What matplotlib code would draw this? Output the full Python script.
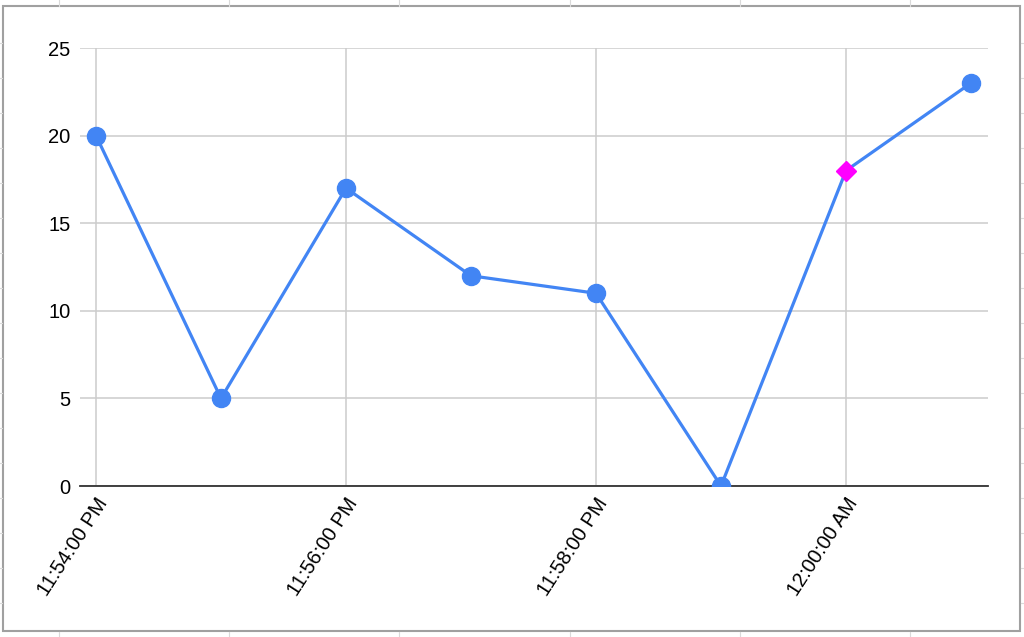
#!/usr/bin/env python3
# -*- coding: utf-8 -*-
import datetime as dt
import matplotlib
matplotlib.use('Agg')
import matplotlib.pyplot as plt
import matplotlib.dates as mdates
from matplotlib.lines import Line2D
from matplotlib.patches import Rectangle

# ------------------------------------------------------------------------------
#   Data
# ------------------------------------------------------------------------------
times = ['23:54', '23:55', '23:56', '23:57', '23:58', '23:59', '00:00', '00:01']
values = [20, 5, 17, 12, 11, 0, 18, 23]
highlight = '00:00'          # point drawn as magenta diamond
y_ticks = [0, 5, 10, 15, 20, 25]

BLUE = '#4285F4'
MAGENTA = '#FF00FF'


def to_dt(s):
    h, m = map(int, s.split(':'))
    day = 1 if h >= 12 else 2
    return dt.datetime(2020, 1, day, h, m)


def main():
    plt.rcParams['font.family'] = ['Liberation Sans', 'DejaVu Sans']
    x = [to_dt(t) for t in times]

    fig = plt.figure(figsize=(10.24, 6.37), dpi=100)
    ax = fig.add_axes([80/1024, 1 - 486/637, 908/1024, 438/637])

    # chart border + faint spreadsheet cells behind it
    fig.add_artist(Rectangle((3/1024, 1 - 631/637), 1017/1024, 625/637,
                             transform=fig.transFigure, fill=False,
                             edgecolor='#a0a0a0', lw=1.5))
    for px in [59, 229, 399, 570, 740, 910]:
        for y0, y1 in [(0, 6), (632, 637)]:
            fig.add_artist(Line2D([px/1024]*2, [1 - y0/637, 1 - y1/637],
                                  color='#dadada', lw=0.8))
    for py in range(43, 637, 35):
        for x0, x1 in [(0, 2), (1021, 1024)]:
            fig.add_artist(Line2D([x0/1024, x1/1024], [1 - py/637]*2,
                                  color='#dadada', lw=0.8))

    ax.plot(x, values, color=BLUE, lw=2.3, marker='o', ms=13,
            markevery=[i for i, t in enumerate(times) if t != highlight],
            zorder=3)
    hi = times.index(highlight)
    ax.plot([x[hi]], [values[hi]], marker='D', color=MAGENTA, ms=10,
            ls='none', zorder=4)

    pad = dt.timedelta(minutes=16/125)
    ax.set_xlim(x[0] - pad, x[-1] + dt.timedelta(minutes=17/125))
    ax.set_ylim(0, 25)
    ax.set_yticks(y_ticks)
    ax.xaxis.set_major_locator(mdates.MinuteLocator(byminute=range(0, 60, 2)))
    ax.xaxis.set_major_formatter(
        plt.FuncFormatter(lambda v, p: mdates.num2date(v).strftime('%I:%M:%S %p').lstrip('0')))

    ax.grid(True, color='#cccccc', lw=1.1)
    ax.set_axisbelow(True)
    for s in ['top', 'right', 'left']:
        ax.spines[s].set_visible(False)
    ax.spines['bottom'].set_color('#333333')
    ax.spines['bottom'].set_linewidth(1.3)
    ax.spines['bottom'].set_zorder(2.5)
    ax.tick_params(length=0, labelsize=14.5, colors='#000000', pad=7)
    ax.tick_params(axis='x', pad=6)
    for lab in ax.get_xticklabels():
        lab.set_rotation(57)
        lab.set_ha('right')
        lab.set_va('top')
        lab.set_rotation_mode('anchor')

    fig.savefig('out.png', dpi=100)


if __name__ == '__main__':
    main()
